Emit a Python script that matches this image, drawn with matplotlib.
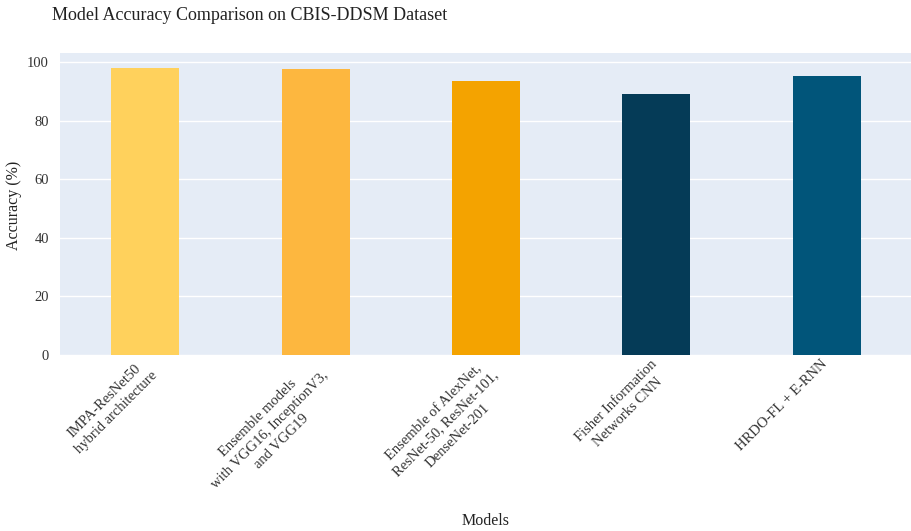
import matplotlib
matplotlib.use('Agg')
from matplotlib import pyplot as plt
from matplotlib.transforms import ScaledTranslation

# Accuracy of each model on CBIS-DDSM
models = [
    'IMPA-ResNet50\nhybrid architecture',
    'Ensemble models\nwith VGG16, InceptionV3,\nand VGG19',
    'Ensemble of AlexNet,\nResNet-50, ResNet-101,\nDenseNet-201',
    'Fisher Information\nNetworks CNN',
    'HRDO-FL + E-RNN',
]
accuracy = [98.0, 97.8, 93.7, 89.3, 95.5]
colors = ['#ffd15c', '#fdb73f', '#f4a300', '#053b57', '#01557a']
yticks = [0, 20, 40, 60, 80, 100]

plt.rcParams['font.family'] = ['Liberation Serif', 'DejaVu Serif']

fig = plt.figure(figsize=(9.12, 5.31), dpi=100)
ax = fig.add_axes([60 / 912, 1 - 355 / 531, 852 / 912, 302 / 531])
ax.set_facecolor('#e5ecf6')

positions = range(len(models))
ax.bar(positions, accuracy, width=0.4, color=colors, zorder=3)

ax.set_xlim(-0.5, len(models) - 0.5)
ax.set_ylim(0, 103.2)
ax.set_yticks(yticks)
ax.grid(axis='y', color='white', linewidth=1, zorder=0)
for spine in ax.spines.values():
    spine.set_visible(False)

ax.set_xticks(list(positions))
ax.set_xticklabels(models, rotation=45, ha='right', va='top',
                   rotation_mode='anchor', multialignment='center',
                   linespacing=1.35)
ax.tick_params(axis='x', length=0, pad=3, labelsize=10.5)
ax.tick_params(axis='y', length=0, pad=8, labelsize=10.5)
shift = ScaledTranslation(-6 / 100, 2 / 100, fig.dpi_scale_trans)
for lbl in ax.get_xticklabels():
    lbl.set_transform(lbl.get_transform() + shift)
for lbl in ax.get_xticklabels() + ax.get_yticklabels():
    lbl.set_color('#333333')

fig.text(52 / 912, 1 - 15 / 531, 'Model Accuracy Comparison on CBIS-DDSM Dataset',
         fontsize=13, va='center', ha='left', color='#222222')
fig.text(486 / 912, 1 - 521 / 531, 'Models', fontsize=11.5,
         va='center', ha='center', color='#222222')
fig.text(14 / 912, 1 - 205 / 531, 'Accuracy (%)', fontsize=11.5,
         va='center', ha='center', rotation=90, color='#222222')

fig.savefig('out.png', dpi=100)
